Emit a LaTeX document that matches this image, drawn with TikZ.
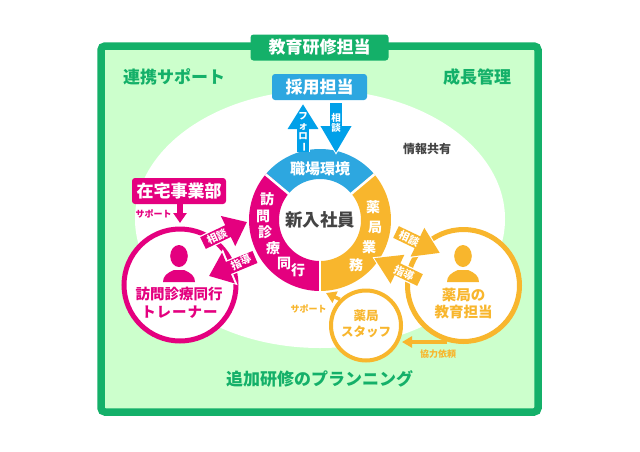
\documentclass[tikz,border=0pt]{standalone}
\usepackage{fontspec}
\setmainfont{Noto Sans CJK JP}
\usetikzlibrary{arrows.meta}
\definecolor{gr}{HTML}{14B069}
\definecolor{lg}{HTML}{CCFFCC}
\definecolor{bl}{HTML}{2DA7E0}
\definecolor{bla}{HTML}{00A0E9}
\definecolor{pk}{HTML}{E4007F}
\definecolor{og}{HTML}{F8B62D}
\definecolor{dk}{HTML}{444444}
\newcommand{\ft}[1]{\fontsize{#1}{#1}\selectfont\bfseries}
\newcommand{\ringseg}[3]{\fill[#1] plot[domain=#2:#3,samples=40] ({320+71*cos(\x)},{220-71*sin(\x)}) -- plot[domain=#3:#2,samples=40] ({320+41*cos(\x)},{220-41*sin(\x)}) -- cycle;}
% colour, shaft, head width, head length, from, to
\newcommand{\fatarrow}[6]{%
\draw[white,line width=#2+2.5pt,shorten >=-2pt,-{Triangle[width=#3+5pt,length=#4+4pt]}] (#5) -- (#6);
\draw[#1,line width=#2,-{Triangle[width=#3,length=#4]}] (#5) -- (#6);}
\newcommand{\person}[3]{%
\fill[#1] (#2,#3-26) ellipse [x radius=8.8, y radius=11];
\fill[#1] (#2-16,#3) .. controls (#2-16,#3-6) and (#2-12,#3-9) .. (#2-5,#3-12) -- (#2+5,#3-12) .. controls (#2+12,#3-9) and (#2+16,#3-6) .. (#2+16,#3) -- cycle;}
\tikzset{
 txt/.style={inner sep=0pt,align=center},
 ttl/.style={txt,font=\ft{17}},
 wt/.style={txt,text=white,font=\ft{#1}},
 box/.style={rounded corners=3pt,inner sep=0pt,minimum height=26pt},
 ringc/.style={circle,draw=#1,fill=white,inner sep=0pt},
}
\begin{document}
\begin{tikzpicture}[x=1pt,y=-1pt]
\useasboundingbox (0,0) rectangle (640,451);
\fill[white] (0,0) rectangle (640,451);
\node[draw=gr,fill=lg,line width=7.5pt,rounded corners=4pt,minimum width=437pt,minimum height=366pt,inner sep=0pt] (frame) at (319.5,229) {};
\fill[white] (320,219) ellipse [x radius=185, y radius=129];
% title tab
\node[box,fill=gr,minimum width=138pt] (tab) at (319.5,47.5) {};
\node[wt=17] (tabt) at (tab) {教育研修担当};
\node[ttl,text=gr] (l1) at (174,77) {連携サポート};
\node[ttl,text=gr] (l2) at (477,77) {成長管理};
\node[ttl,text=gr] (l3) at (319.5,379) {追加研修のプランニング};
\node[txt,text=dk,font=\ft{12}] (l4) at (427,149) {情報共有};
% recruit
\node[box,fill=bl,minimum width=95pt] (saiyo) at (319.5,87) {};
\node[wt=17] at (saiyo) {採用担当};
% ring
\ringseg{bl}{41}{139}
\ringseg{pk}{139}{270}
\ringseg{og}{-90}{41}
\coordinate (rc) at (320,220);
\coordinate (c1) at (320,294);
\coordinate (c2) at (320,258);
\coordinate (c3) at (265.5,174.3);
\coordinate (c4) at (289,194);
\coordinate (c5) at (374.5,174.3);
\coordinate (c6) at (351,194);
\draw[white,line width=2.5pt] (c1) -- (c2);
\draw[white,line width=2.5pt] (c3) -- (c4);
\draw[white,line width=2.5pt] (c5) -- (c6);
\node[txt,text=dk,font=\ft{17.5}] (new) at (rc) {新入社員};
\node[wt=15] (shoku) at (320,169) {職場環境};
\foreach \t/\a/\b in {訪/267/199,問/263/216,診/265/232,療/273/248,同/284/263,行/298/270}
  \node[wt=14] at (\a,\b) {\t};
\foreach \t/\a/\b in {薬/373/207,局/375/227,業/369/247,務/356/265}
  \node[wt=14] at (\a,\b) {\t};
% blue arrows
\coordinate (fs) at (303,152);
\coordinate (ft) at (303,104);
\coordinate (ss) at (336,103);
\coordinate (st) at (336,153);
\fatarrow{bla}{12pt}{29pt}{25pt}{fs}{ft}
\fatarrow{bla}{12pt}{29pt}{27pt}{ss}{st}
\node[wt=9.5] (fol) at (303,132) {フ\\[0.5pt]ォ\\[0.5pt]ロ\\[0.5pt]\rotatebox[origin=c]{-90}{ー}};
\node[wt=9.5] (sod) at (336,123) {相\\[0.5pt]談};
% home care
\node[box,fill=pk,minimum width=94pt] (zaitaku) at (179,191) {};
\node[wt=17] at (zaitaku) {在宅事業部};
\node[txt,text=pk,font=\ft{9}] at (153.5,214) {サポート};
\coordinate (zt) at (180,223);
\draw[pk,line width=6pt,-{Triangle[width=13pt,length=10pt]}] (zaitaku.south -| zt) -- (zt);
% trainer
\node[ringc=pk,line width=5pt,minimum size=112pt] (trainer) at (180,285) {};
\person{pk}{179}{282}
\node[txt,text=pk,font=\ft{14.5}] at (179,294) {訪問診療同行};
\node[txt,text=pk,font=\ft{14.5}] at (179.5,312) {ト\hspace{1pt}レ\hspace{1pt}ー\hspace{1pt}ナ\hspace{1pt}ー};
\coordinate (a1s) at (203,243);
\coordinate (a1t) at (247,222);
\coordinate (a2s) at (255,257);
\coordinate (a2t) at (209,276);
\fatarrow{pk}{13pt}{32pt}{21pt}{a1s}{a1t}
\fatarrow{pk}{13pt}{32pt}{21pt}{a2s}{a2t}
\node[wt=10.5,rotate=25] at (217,236.5) {相談};
\node[wt=10.5,rotate=25] at (241,262) {指導};
% pharmacy educator
\node[ringc=og,line width=5pt,minimum size=112pt] (edu) at (463.5,285.5) {};
\person{og}{463}{282}
\node[txt,text=og,font=\ft{14.5}] at (463.5,295) {薬局の};
\node[txt,text=og,font=\ft{14.5}] at (463.5,312) {教育担当};
\coordinate (b1s) at (396,232);
\coordinate (b1t) at (440,253);
\coordinate (b2s) at (420,280);
\coordinate (b2t) at (374,258);
\fatarrow{og}{13pt}{30pt}{25pt}{b1s}{b1t}
\fatarrow{og}{13pt}{30pt}{26pt}{b2s}{b2t}
\node[wt=10.5,rotate=-25] at (404,273) {指導};
\node[wt=10.5,rotate=-25] at (409,238.5) {相談};
% staff
\node[ringc=og,line width=4pt,minimum size=70pt] (staff) at (366,325.5) {};
\node[txt,text=og,font=\ft{12.5}] at (366,316) {薬局};
\node[txt,text=og,font=\ft{12.5}] at (366,332) {スタッフ};
\coordinate (c9) at (326,293);
\draw[og,line width=3.5pt,-{Triangle[width=12pt,length=10pt]}] (staff.135) -- (c9);
\node[txt,text=og,font=\ft{9}] at (308.5,309) {サポート};
\coordinate (k1) at (402,342);
\coordinate (k0) at (447,342);
\draw[og,line width=4pt,-{Triangle[width=11pt,length=10pt]}] (k0) -- (k1);
\node[txt,text=og,font=\ft{9}] at (438,354) {協力依頼};
\end{tikzpicture}
\end{document}
